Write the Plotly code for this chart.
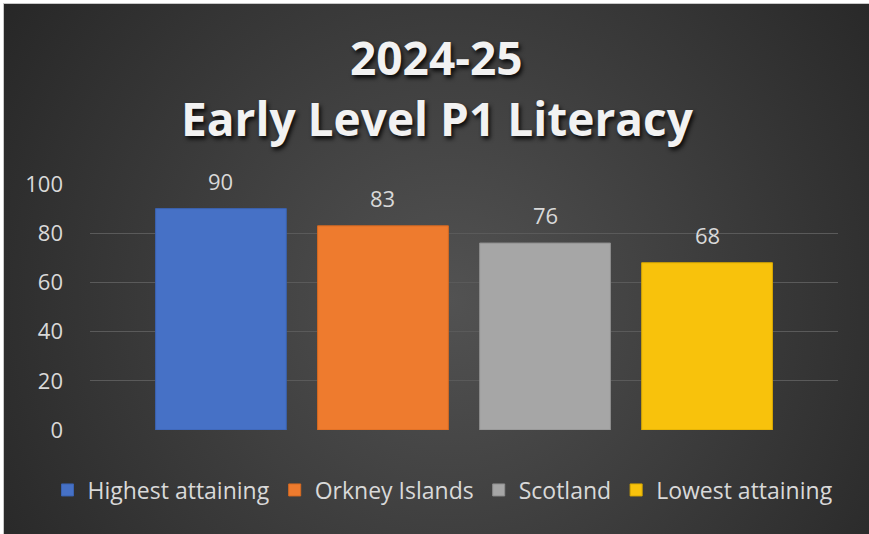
import base64
import plotly.graph_objects as go

# ---- data ----
categories = ["Highest attaining", "Orkney Islands", "Scotland", "Lowest attaining"]
values = [90, 83, 76, 68]
colors = ["#4671c6", "#ee7b2e", "#a6a6a6", "#f8c20c"]
edge_colors = ["#3a62b0", "#d86a20", "#8e8e8e", "#d9a800"]
title_lines = ["2024-25", "Early Level P1 Literacy"]
y_ticks = [0, 20, 40, 60, 80, 100]

W, H = 869, 534

# background: dark radial gradient panel with thin white strips at left/top
svg = f'''<svg xmlns="http://www.w3.org/2000/svg" width="{W}" height="{H}" viewBox="0 0 {W} {H}" preserveAspectRatio="none">
<defs><radialGradient id="g" gradientUnits="userSpaceOnUse" cx="450" cy="300" r="560">
<stop offset="0" stop-color="#525252"/><stop offset="1" stop-color="#252525"/></radialGradient></defs>
<rect x="0" y="0" width="{W}" height="{H}" fill="url(#g)"/>
<rect x="0" y="0" width="3" height="{H}" fill="#ffffff"/>
<rect x="0" y="0" width="{W}" height="3" fill="#ffffff"/>
<line x1="3.5" y1="3" x2="3.5" y2="{H}" stroke="#c8c8c8" stroke-width="1"/>
<line x1="3" y1="3.5" x2="{W}" y2="3.5" stroke="#c8c8c8" stroke-width="1"/>
</svg>'''
bg_uri = "data:image/svg+xml;base64," + base64.b64encode(svg.encode()).decode()

fig = go.Figure()
for cat, val, col, ec in zip(categories, values, colors, edge_colors):
    fig.add_trace(go.Bar(
        x=[cat], y=[val], name=cat,
        marker=dict(color=col, line=dict(color=ec, width=1)),
        hoverinfo="skip",
    ))
    fig.add_annotation(
        x=cat, y=val, xref="x", yref="y", text=str(val), showarrow=False,
        yanchor="bottom", yshift=11,
        font=dict(family="Open Sans", size=22, color="#d9d9d9"),
    )

title_font = dict(family="Open Sans", size=46, color="#f2f2f2", weight="bold",
                  shadow="2px 3px 4px rgba(0,0,0,0.85)")
fig.add_annotation(x=436 / W, y=1 - 57 / H, xref="paper", yref="paper",
                   text=title_lines[0], showarrow=False, xanchor="center",
                   yanchor="middle", font=title_font)
fig.add_annotation(x=437 / W, y=1 - 118 / H, xref="paper", yref="paper",
                   text=title_lines[1], showarrow=False, xanchor="center",
                   yanchor="middle", font=title_font)

fig.update_layout(
    width=W, height=H,
    autosize=False,
    margin=dict(l=0, r=0, t=0, b=0, pad=0, autoexpand=False),
    paper_bgcolor="#262626",
    plot_bgcolor="rgba(0,0,0,0)",
    barmode="overlay",
    bargap=0.193,
    showlegend=True,
    images=[dict(source=bg_uri, xref="paper", yref="paper", x=0, y=1,
                 sizex=1, sizey=1, sizing="stretch", layer="below",
                 xanchor="left", yanchor="top")],
    legend=dict(orientation="h", x=443 / W, y=1 - 490 / H, xanchor="center",
                yanchor="middle", font=dict(family="Open Sans", size=23, color="#d9d9d9"),
                bgcolor="rgba(0,0,0,0)", itemclick=False, itemdoubleclick=False,
                tracegroupgap=0, itemwidth=30),
    xaxis=dict(domain=[90 / W, 838 / W], range=[-0.808, 3.808], showticklabels=False,
               showgrid=False, zeroline=False, showline=False, fixedrange=True,
               automargin=False),
    yaxis=dict(domain=[1 - 430 / H, 1 - 184 / H], range=[0, 100], tickvals=y_ticks,
               showgrid=True, gridcolor="#5a5a5a", gridwidth=1, zeroline=False,
               showline=False, ticks="", ticklabelstandoff=26, automargin=False,
               tickfont=dict(family="Open Sans", size=22, color="#d9d9d9"),
               fixedrange=True),
)

fig.write_html(
    "out.html", config={"displayModeBar": False},
    post_script="document.body.style.margin='0';"
                "document.body.style.background='#262626';"
                "document.documentElement.style.background='#262626';"
                "document.body.style.overflow='hidden';",
)
